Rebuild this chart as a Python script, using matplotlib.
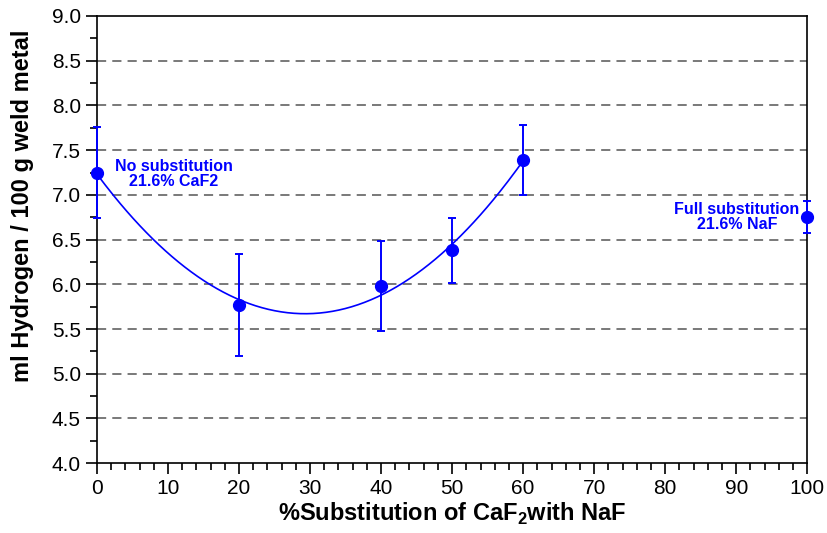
import matplotlib
matplotlib.use("Agg")
import matplotlib.pyplot as plt
from matplotlib.ticker import MultipleLocator
import numpy as np

plt.rcParams["font.family"] = ["Liberation Sans", "DejaVu Sans"]

# data
substitution = [0, 20, 40, 50, 60, 100]
hydrogen = [7.25, 5.77, 5.98, 6.38, 7.39, 6.75]
hydrogen_err = [0.51, 0.57, 0.50, 0.36, 0.39, 0.18]

fit_x = [0, 20, 40, 50, 60]
fit_y = [7.25, 5.77, 5.98, 6.38, 7.39]

blue = "#0000ff"

fig = plt.figure(figsize=(8.28, 5.33), dpi=100)
ax = fig.add_axes([0.117, 0.131, 0.858, 0.839])

# second order fit through the 0-60 % points
coef = np.polyfit(fit_x, fit_y, 2)
xs = np.linspace(0, 60, 200)
ax.plot(xs, np.polyval(coef, xs), color=blue, lw=1.2, zorder=3)

ax.errorbar(substitution, hydrogen, yerr=hydrogen_err, fmt="o", color=blue,
            ms=8.5, elinewidth=1.4, capsize=3, capthick=1.4, zorder=4,
            clip_on=False)

ax.text(2.5, 7.23, "No substitution\n21.6% CaF2", color=blue, fontsize=11.5,
        fontweight="bold", ha="left", va="center", multialignment="center",
        linespacing=1.0)
ax.text(98.9, 6.75, "Full substitution\n21.6% NaF", color=blue, fontsize=11.5,
        fontweight="bold", ha="right", va="center", multialignment="center",
        linespacing=1.0)

ax.set_xlim(0, 100)
ax.set_ylim(4.0, 9.0)
ax.xaxis.set_major_locator(MultipleLocator(10))
ax.xaxis.set_minor_locator(MultipleLocator(2))
ax.yaxis.set_major_locator(MultipleLocator(0.5))
ax.yaxis.set_minor_locator(MultipleLocator(0.25))
ax.yaxis.set_major_formatter(matplotlib.ticker.FormatStrFormatter("%.1f"))

ax.tick_params(which="both", direction="out", top=False, right=False,
               width=1.2, labelsize=15)
ax.tick_params(which="major", length=8)
ax.tick_params(which="minor", length=5)

for y in np.arange(4.5, 9.0, 0.5):
    ax.axhline(y, color="#555555", lw=1.1, ls=(0, (6, 4)), zorder=1)

for s in ax.spines.values():
    s.set_linewidth(1.2)

ax.set_xlabel("%Substitution of CaF$_\\mathregular{2}$with NaF", fontsize=17,
              fontweight="bold", labelpad=2)
ax.set_ylabel("ml Hydrogen / 100 g weld metal", fontsize=17,
              fontweight="bold")
ax.yaxis.set_label_coords(-0.089, 0.575)

fig.savefig("out.png", dpi=100)
